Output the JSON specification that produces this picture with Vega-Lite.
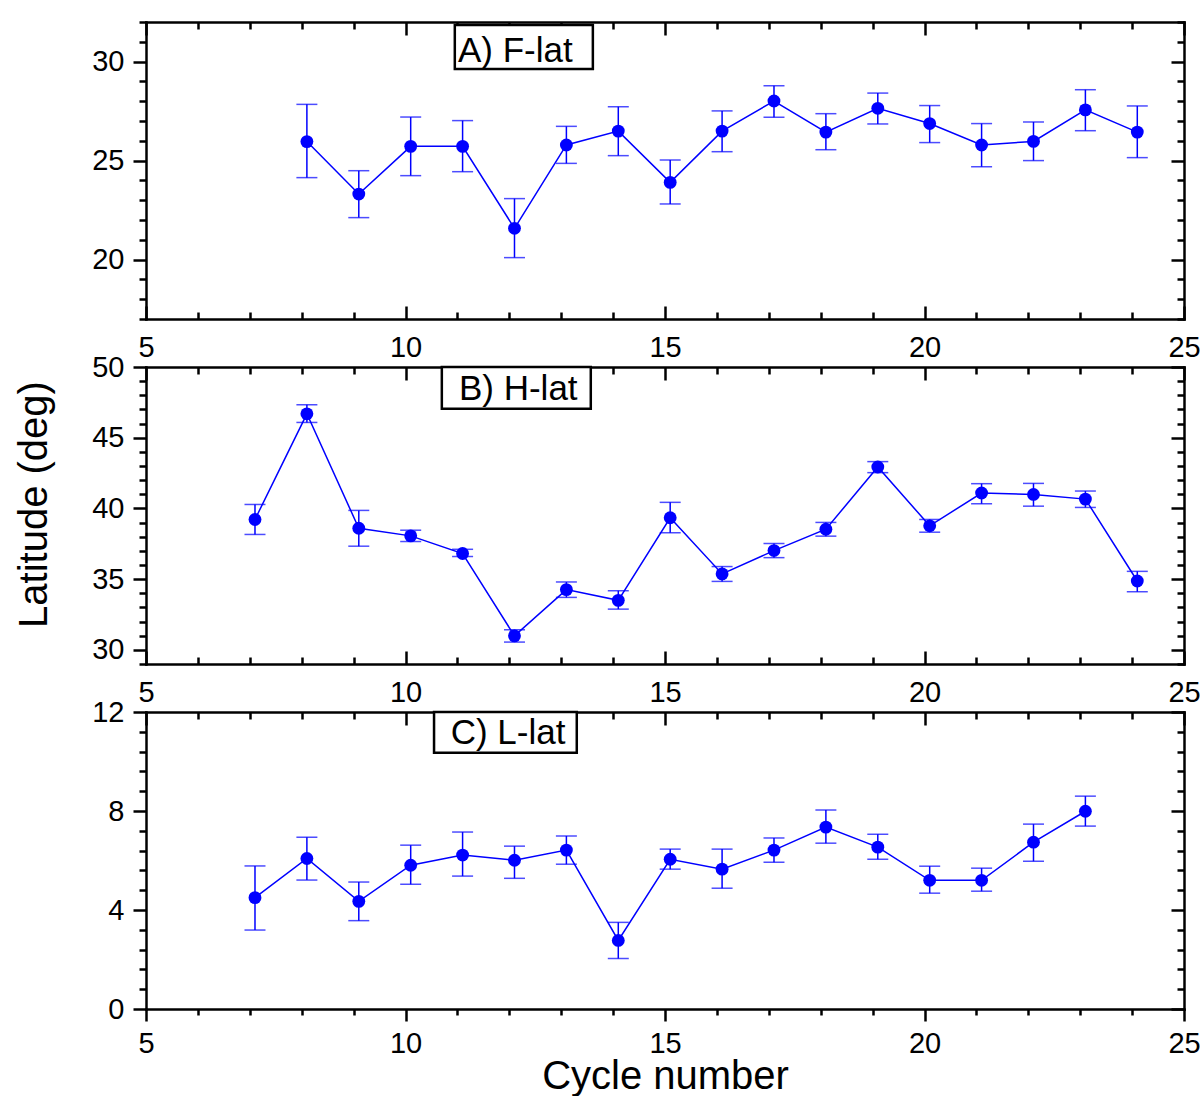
{
  "$schema": "https://vega.github.io/schema/vega-lite/v6.json",
  "description": "Latitude of three sunspot classes against cycle number",
  "background": "white",
  "padding": {"left": 14, "top": 8, "right": 0, "bottom": 0},
  "bounds": "flush",
  "spacing": 48,
  "datasets": {
    "flat": [
      {"cyc": 8.1, "val": 25.96, "lo": 24.14, "hi": 27.84},
      {"cyc": 9.1, "val": 23.31, "lo": 22.12, "hi": 24.49},
      {"cyc": 10.1, "val": 25.72, "lo": 24.24, "hi": 27.2},
      {"cyc": 11.1, "val": 25.72, "lo": 24.44, "hi": 27.02},
      {"cyc": 12.1, "val": 21.58, "lo": 20.1, "hi": 23.08},
      {"cyc": 13.1, "val": 25.79, "lo": 24.86, "hi": 26.73},
      {"cyc": 14.1, "val": 26.49, "lo": 25.25, "hi": 27.72},
      {"cyc": 15.1, "val": 23.9, "lo": 22.81, "hi": 25.03},
      {"cyc": 16.1, "val": 26.49, "lo": 25.45, "hi": 27.51},
      {"cyc": 17.1, "val": 28.01, "lo": 27.19, "hi": 28.78},
      {"cyc": 18.1, "val": 26.44, "lo": 25.55, "hi": 27.37},
      {"cyc": 19.1, "val": 27.64, "lo": 26.85, "hi": 28.41},
      {"cyc": 20.1, "val": 26.87, "lo": 25.91, "hi": 27.78},
      {"cyc": 21.1, "val": 25.79, "lo": 24.69, "hi": 26.87},
      {"cyc": 22.1, "val": 25.97, "lo": 25.0, "hi": 26.95},
      {"cyc": 23.1, "val": 27.56, "lo": 26.51, "hi": 28.58},
      {"cyc": 24.1, "val": 26.44, "lo": 25.15, "hi": 27.76}
    ],
    "hlat": [
      {"cyc": 7.1, "val": 39.22, "lo": 38.16, "hi": 40.28},
      {"cyc": 8.1, "val": 46.69, "lo": 46.08, "hi": 47.33},
      {"cyc": 9.1, "val": 38.6, "lo": 37.33, "hi": 39.86},
      {"cyc": 10.1, "val": 38.06, "lo": 37.66, "hi": 38.46},
      {"cyc": 11.1, "val": 36.81, "lo": 36.6, "hi": 37.11},
      {"cyc": 12.1, "val": 30.99, "lo": 30.55, "hi": 31.42},
      {"cyc": 13.1, "val": 34.26, "lo": 33.71, "hi": 34.8},
      {"cyc": 14.1, "val": 33.5, "lo": 32.88, "hi": 34.18},
      {"cyc": 15.1, "val": 39.34, "lo": 38.28, "hi": 40.43},
      {"cyc": 16.1, "val": 35.37, "lo": 34.84, "hi": 35.89},
      {"cyc": 17.1, "val": 37.02, "lo": 36.52, "hi": 37.52},
      {"cyc": 18.1, "val": 38.53, "lo": 38.04, "hi": 39.01},
      {"cyc": 19.1, "val": 42.93, "lo": 42.53, "hi": 43.31},
      {"cyc": 20.1, "val": 38.77, "lo": 38.32, "hi": 39.22},
      {"cyc": 21.1, "val": 41.09, "lo": 40.33, "hi": 41.75},
      {"cyc": 22.1, "val": 40.99, "lo": 40.16, "hi": 41.77},
      {"cyc": 23.1, "val": 40.66, "lo": 40.07, "hi": 41.23},
      {"cyc": 24.1, "val": 34.87, "lo": 34.11, "hi": 35.55}
    ],
    "llat": [
      {"cyc": 7.1, "val": 4.5, "lo": 3.19, "hi": 5.78},
      {"cyc": 8.1, "val": 6.08, "lo": 5.21, "hi": 6.94},
      {"cyc": 9.1, "val": 4.35, "lo": 3.57, "hi": 5.13},
      {"cyc": 10.1, "val": 5.81, "lo": 5.04, "hi": 6.62},
      {"cyc": 11.1, "val": 6.22, "lo": 5.37, "hi": 7.15},
      {"cyc": 12.1, "val": 6.01, "lo": 5.28, "hi": 6.58},
      {"cyc": 13.1, "val": 6.42, "lo": 5.85, "hi": 6.99},
      {"cyc": 14.1, "val": 2.77, "lo": 2.04, "hi": 3.5},
      {"cyc": 15.1, "val": 6.05, "lo": 5.65, "hi": 6.46},
      {"cyc": 16.1, "val": 5.65, "lo": 4.88, "hi": 6.46},
      {"cyc": 17.1, "val": 6.42, "lo": 5.93, "hi": 6.91},
      {"cyc": 18.1, "val": 7.35, "lo": 6.7, "hi": 8.04},
      {"cyc": 19.1, "val": 6.54, "lo": 6.05, "hi": 7.06},
      {"cyc": 20.1, "val": 5.2, "lo": 4.68, "hi": 5.77},
      {"cyc": 21.1, "val": 5.2, "lo": 4.76, "hi": 5.69},
      {"cyc": 22.1, "val": 6.74, "lo": 5.97, "hi": 7.47},
      {"cyc": 23.1, "val": 7.99, "lo": 7.39, "hi": 8.6}
    ]
  },
  "vconcat": [
    {
      "width": 1038,
      "height": 297,
      "data": {"name": "flat"},
      "resolve": {"axis": {"x": "independent", "y": "independent"}},
      "layer": [
        {
          "mark": {"type": "rule", "color": "#0000ff", "strokeWidth": 1.5},
          "encoding": {
            "x": {"field": "cyc", "type": "quantitative", "scale": {"domain": [5, 25], "nice": false, "zero": false},
              "axis": {"orient": "bottom", "title": null, "tickCount": 40, "values": [5, 6, 7, 8, 9, 10, 11, 12, 13, 14, 15, 16, 17, 18, 19, 20, 21, 22, 23, 24, 25],
                "labelExpr": "datum.value % 5 === 0 ? format(datum.value, 'd') : ''",
                "tickSize": {"condition": {"test": "datum.value % 5 === 0", "value": -13}, "value": -7},
                "labelPadding": 27}},
            "y": {"field": "lo", "type": "quantitative", "scale": {"domain": [17, 32], "nice": false, "zero": false},
              "axis": {"orient": "left", "title": null, "tickCount": 40, "values": [17, 18, 19, 20, 21, 22, 23, 24, 25, 26, 27, 28, 29, 30, 31, 32],
                "labelExpr": "datum.value % 5 === 0 ? format(datum.value, 'd') : ''",
                "tickSize": {"condition": {"test": "datum.value % 5 === 0", "value": 13}, "value": 7},
                "labelPadding": 9}},
            "y2": {"field": "hi"}
          }
        },
        {
          "mark": {"type": "tick", "orient": "horizontal", "color": "#0000ff", "size": 21, "thickness": 1.5},
          "encoding": {
            "x": {"field": "cyc", "type": "quantitative", "axis": null},
            "y": {"field": "lo", "type": "quantitative", "axis": null}
          }
        },
        {
          "mark": {"type": "tick", "orient": "horizontal", "color": "#0000ff", "size": 21, "thickness": 1.5},
          "encoding": {
            "x": {"field": "cyc", "type": "quantitative", "axis": null},
            "y": {"field": "hi", "type": "quantitative", "axis": null}
          }
        },
        {
          "mark": {"type": "line", "color": "#0000ff", "strokeWidth": 1.5},
          "encoding": {
            "x": {"field": "cyc", "type": "quantitative",
              "axis": {"orient": "top", "title": null, "labels": false, "tickCount": 40, "values": [5, 6, 7, 8, 9, 10, 11, 12, 13, 14, 15, 16, 17, 18, 19, 20, 21, 22, 23, 24, 25],
                "tickSize": {"condition": {"test": "datum.value % 5 === 0", "value": -13}, "value": -7}}},
            "y": {"field": "val", "type": "quantitative",
              "axis": {"orient": "right", "title": null, "labels": false, "tickCount": 40, "values": [17, 18, 19, 20, 21, 22, 23, 24, 25, 26, 27, 28, 29, 30, 31, 32],
                "tickSize": {"condition": {"test": "datum.value % 5 === 0", "value": -13}, "value": -7}}}
          }
        },
        {
          "mark": {"type": "point", "shape": "circle", "filled": true, "size": 165, "color": "#0000ff", "opacity": 1},
          "encoding": {
            "x": {"field": "cyc", "type": "quantitative", "axis": null},
            "y": {"field": "val", "type": "quantitative", "axis": null}
          }
        },
        {
          "data": {"values": [{}]},
          "mark": {"type": "rect", "fill": "white", "stroke": "black", "strokeWidth": 2.5},
          "encoding": {
            "x": {"datum": 10.95, "type": "quantitative", "axis": null},
            "x2": {"datum": 13.61},
            "y": {"datum": 31.85, "type": "quantitative", "axis": null},
            "y2": {"datum": 29.63}
          }
        },
        {
          "data": {"values": [{}]},
          "mark": {"type": "text", "text": "A) F-lat", "align": "left", "baseline": "alphabetic", "font": "Liberation Sans", "fontSize": 35, "color": "black"},
          "encoding": {
            "x": {"datum": 11.01, "type": "quantitative", "axis": null},
            "y": {"datum": 30.0, "type": "quantitative", "axis": null}
          }
        }
      ]
    },
    {
      "width": 1038,
      "height": 297,
      "data": {"name": "hlat"},
      "resolve": {"axis": {"x": "independent", "y": "independent"}},
      "layer": [
        {
          "mark": {"type": "rule", "color": "#0000ff", "strokeWidth": 1.5},
          "encoding": {
            "x": {"field": "cyc", "type": "quantitative", "scale": {"domain": [5, 25], "nice": false, "zero": false},
              "axis": {"orient": "bottom", "title": null, "tickCount": 40, "values": [5, 6, 7, 8, 9, 10, 11, 12, 13, 14, 15, 16, 17, 18, 19, 20, 21, 22, 23, 24, 25],
                "labelExpr": "datum.value % 5 === 0 ? format(datum.value, 'd') : ''",
                "tickSize": {"condition": {"test": "datum.value % 5 === 0", "value": -13}, "value": -7},
                "labelPadding": 27}},
            "y": {"field": "lo", "type": "quantitative", "scale": {"domain": [29, 50], "nice": false, "zero": false},
              "axis": {"orient": "left", "tickCount": 40, "values": [29, 30, 31, 32, 33, 34, 35, 36, 37, 38, 39, 40, 41, 42, 43, 44, 45, 46, 47, 48, 49, 50],
                "labelExpr": "datum.value % 5 === 0 ? format(datum.value, 'd') : ''",
                "tickSize": {"condition": {"test": "datum.value % 5 === 0", "value": 13}, "value": 7},
                "labelPadding": 9,
                "title": "Latitude (deg)", "titleX": -100, "titleY": 137, "titleAngle": 270, "titleAlign": "center", "titleBaseline": "alphabetic"}},
            "y2": {"field": "hi"}
          }
        },
        {
          "mark": {"type": "tick", "orient": "horizontal", "color": "#0000ff", "size": 21, "thickness": 1.5},
          "encoding": {
            "x": {"field": "cyc", "type": "quantitative", "axis": null},
            "y": {"field": "lo", "type": "quantitative", "axis": null}
          }
        },
        {
          "mark": {"type": "tick", "orient": "horizontal", "color": "#0000ff", "size": 21, "thickness": 1.5},
          "encoding": {
            "x": {"field": "cyc", "type": "quantitative", "axis": null},
            "y": {"field": "hi", "type": "quantitative", "axis": null}
          }
        },
        {
          "mark": {"type": "line", "color": "#0000ff", "strokeWidth": 1.5},
          "encoding": {
            "x": {"field": "cyc", "type": "quantitative",
              "axis": {"orient": "top", "title": null, "labels": false, "tickCount": 40, "values": [5, 6, 7, 8, 9, 10, 11, 12, 13, 14, 15, 16, 17, 18, 19, 20, 21, 22, 23, 24, 25],
                "tickSize": {"condition": {"test": "datum.value % 5 === 0", "value": -13}, "value": -7}}},
            "y": {"field": "val", "type": "quantitative",
              "axis": {"orient": "right", "title": null, "labels": false, "tickCount": 40, "values": [29, 30, 31, 32, 33, 34, 35, 36, 37, 38, 39, 40, 41, 42, 43, 44, 45, 46, 47, 48, 49, 50],
                "tickSize": {"condition": {"test": "datum.value % 5 === 0", "value": -13}, "value": -7}}}
          }
        },
        {
          "mark": {"type": "point", "shape": "circle", "filled": true, "size": 165, "color": "#0000ff", "opacity": 1},
          "encoding": {
            "x": {"field": "cyc", "type": "quantitative", "axis": null},
            "y": {"field": "val", "type": "quantitative", "axis": null}
          }
        },
        {
          "data": {"values": [{}]},
          "mark": {"type": "rect", "fill": "white", "stroke": "black", "strokeWidth": 2.5},
          "encoding": {
            "x": {"datum": 10.7, "type": "quantitative", "axis": null},
            "x2": {"datum": 13.57},
            "y": {"datum": 50, "type": "quantitative", "axis": null},
            "y2": {"datum": 47.04}
          }
        },
        {
          "data": {"values": [{}]},
          "mark": {"type": "text", "text": "B) H-lat", "align": "left", "baseline": "alphabetic", "font": "Liberation Sans", "fontSize": 35, "color": "black"},
          "encoding": {
            "x": {"datum": 11.03, "type": "quantitative", "axis": null},
            "y": {"datum": 47.68, "type": "quantitative", "axis": null}
          }
        }
      ]
    },
    {
      "width": 1038,
      "height": 297,
      "data": {"name": "llat"},
      "resolve": {"axis": {"x": "independent", "y": "independent"}},
      "layer": [
        {
          "mark": {"type": "rule", "color": "#0000ff", "strokeWidth": 1.5},
          "encoding": {
            "x": {"field": "cyc", "type": "quantitative", "scale": {"domain": [5, 25], "nice": false, "zero": false},
              "axis": {"orient": "bottom", "tickCount": 40, "values": [5, 6, 7, 8, 9, 10, 11, 12, 13, 14, 15, 16, 17, 18, 19, 20, 21, 22, 23, 24, 25],
                "labelExpr": "datum.value % 5 === 0 ? format(datum.value, 'd') : ''",
                "tickSize": {"condition": {"test": "datum.value % 5 === 0", "value": 12}, "value": 6},
                "labelPadding": 8,
                "title": "Cycle number", "titleY": 79, "titleBaseline": "alphabetic"}},
            "y": {"field": "lo", "type": "quantitative", "scale": {"domain": [0, 12], "nice": false, "zero": false},
              "axis": {"orient": "left", "title": null, "tickCount": 40, "values": [0, 0.8, 1.6, 2.4, 3.2, 4, 4.8, 5.6, 6.4, 7.2, 8, 8.8, 9.6, 10.4, 11.2, 12],
                "labelExpr": "abs(datum.value - 4 * round(datum.value / 4)) < 0.01 ? format(datum.value, 'd') : ''",
                "tickSize": {"condition": {"test": "abs(datum.value - 4 * round(datum.value / 4)) < 0.01", "value": 13}, "value": 7},
                "labelPadding": 9}},
            "y2": {"field": "hi"}
          }
        },
        {
          "mark": {"type": "tick", "orient": "horizontal", "color": "#0000ff", "size": 21, "thickness": 1.5},
          "encoding": {
            "x": {"field": "cyc", "type": "quantitative", "axis": null},
            "y": {"field": "lo", "type": "quantitative", "axis": null}
          }
        },
        {
          "mark": {"type": "tick", "orient": "horizontal", "color": "#0000ff", "size": 21, "thickness": 1.5},
          "encoding": {
            "x": {"field": "cyc", "type": "quantitative", "axis": null},
            "y": {"field": "hi", "type": "quantitative", "axis": null}
          }
        },
        {
          "mark": {"type": "line", "color": "#0000ff", "strokeWidth": 1.5},
          "encoding": {
            "x": {"field": "cyc", "type": "quantitative",
              "axis": {"orient": "top", "title": null, "labels": false, "tickCount": 40, "values": [5, 6, 7, 8, 9, 10, 11, 12, 13, 14, 15, 16, 17, 18, 19, 20, 21, 22, 23, 24, 25],
                "tickSize": {"condition": {"test": "datum.value % 5 === 0", "value": -13}, "value": -7}}},
            "y": {"field": "val", "type": "quantitative",
              "axis": {"orient": "right", "title": null, "labels": false, "tickCount": 40, "values": [0, 0.8, 1.6, 2.4, 3.2, 4, 4.8, 5.6, 6.4, 7.2, 8, 8.8, 9.6, 10.4, 11.2, 12],
                "tickSize": {"condition": {"test": "abs(datum.value - 4 * round(datum.value / 4)) < 0.01", "value": -13}, "value": -7}}}
          }
        },
        {
          "mark": {"type": "point", "shape": "circle", "filled": true, "size": 165, "color": "#0000ff", "opacity": 1},
          "encoding": {
            "x": {"field": "cyc", "type": "quantitative", "axis": null},
            "y": {"field": "val", "type": "quantitative", "axis": null}
          }
        },
        {
          "data": {"values": [{}]},
          "mark": {"type": "rect", "fill": "white", "stroke": "black", "strokeWidth": 2.5},
          "encoding": {
            "x": {"datum": 10.55, "type": "quantitative", "axis": null},
            "x2": {"datum": 13.3},
            "y": {"datum": 12, "type": "quantitative", "axis": null},
            "y2": {"datum": 10.35}
          }
        },
        {
          "data": {"values": [{}]},
          "mark": {"type": "text", "text": "C) L-lat", "align": "left", "baseline": "alphabetic", "font": "Liberation Sans", "fontSize": 35, "color": "black"},
          "encoding": {
            "x": {"datum": 10.87, "type": "quantitative", "axis": null},
            "y": {"datum": 10.69, "type": "quantitative", "axis": null}
          }
        }
      ]
    }
  ],
  "config": {
    "view": {"stroke": null},
    "axis": {
      "grid": false,
      "domainColor": "black",
      "domainWidth": 2.5,
      "domainCap": "square",
      "tickColor": "black",
      "tickWidth": 2.5,
      "labelFont": "Liberation Sans",
      "labelFontSize": 29,
      "labelColor": "black",
      "labelOverlap": false,
      "labelFlush": false,
      "titleFont": "Liberation Sans",
      "titleFontSize": 40,
      "titleFontWeight": "normal",
      "titleColor": "black"
    }
  }
}
